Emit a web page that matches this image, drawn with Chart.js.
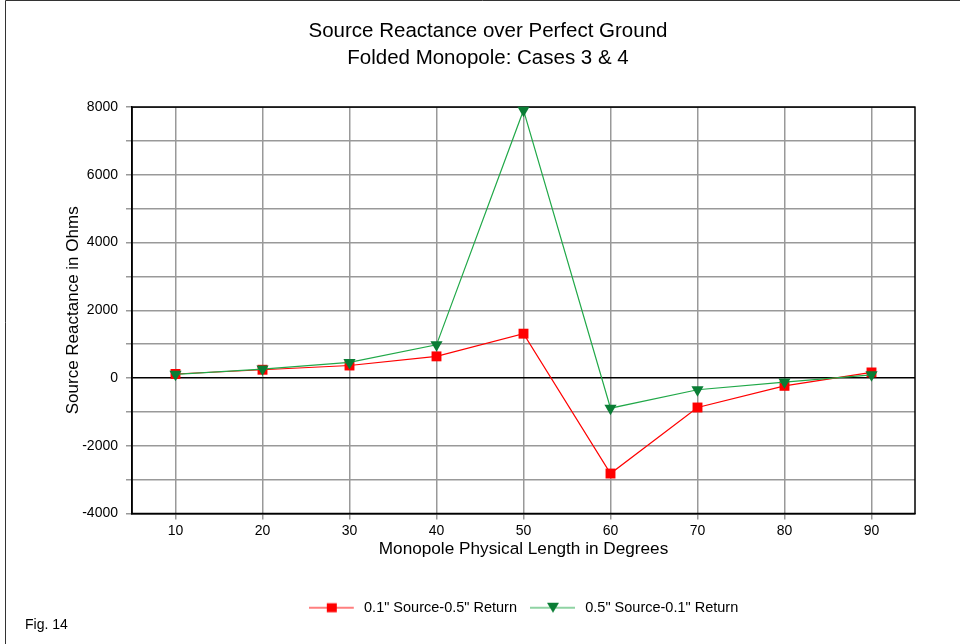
<!DOCTYPE html>
<html>
<head>
<meta charset="utf-8">
<script src="https://cdn.jsdelivr.net/npm/chart.js@4.4.1/dist/chart.umd.min.js"></script>
<style>
  html, body { margin: 0; padding: 0; background: #fff; }
</style>
</head>
<body>
<canvas id="myChart" width="960" height="644"></canvas>
<script>
// values (ohms)
const lengths = ['10', '20', '30', '40', '50', '60', '70', '80', '90'];
const reactanceCase3 = [120, 245, 370, 640, 1310, -2820, -870, -230, 165];
const reactanceCase4 = [110, 265, 460, 980, 7910, -890, -345, -120, 95];
const seriesNames = ['0.1" Source-0.5" Return', '0.5" Source-0.1" Return'];
const titleLines = ['Source Reactance over Perfect Ground', 'Folded Monopole: Cases 3 & 4'];

const FONT = "'Liberation Sans', Arial, sans-serif";
const RED = '#ff0000';
const GREEN_LINE = '#20a848';
const GREEN_MARK = '#0a7d35';

// legend icons: short line with the marker in the middle
function legendIcon(kind) {
    const c = document.createElement('canvas');
    c.width = 48; c.height = 12;
    const g = c.getContext('2d');
    g.strokeStyle = kind === 'red' ? RED : GREEN_LINE;
    g.lineWidth = 1.2;
    g.beginPath(); g.moveTo(0, 6); g.lineTo(45, 6); g.stroke();
    if (kind === 'red') {
        g.fillStyle = RED;
        g.fillRect(18, 1.5, 10, 9);
    } else {
        g.fillStyle = GREEN_MARK;
        g.beginPath(); g.moveTo(17, 1); g.lineTo(29, 1); g.lineTo(23, 11); g.closePath(); g.fill();
    }
    return c;
}
const icons = [legendIcon('red'), legendIcon('green')];

const plotFrame = {
    id: 'plotFrame',
    beforeDatasetsDraw(chart) {
        const {ctx, chartArea: a} = chart;
        ctx.save();
        ctx.strokeStyle = '#000';
        ctx.lineWidth = 1.5;
        ctx.strokeRect(a.left, a.top, a.right - a.left, a.bottom - a.top);
        ctx.restore();
    },
    afterDraw(chart) {
        const ctx = chart.ctx;
        ctx.save();
        ctx.strokeStyle = '#333';
        ctx.lineWidth = 1;
        ctx.beginPath();
        ctx.moveTo(5.5, 644); ctx.lineTo(5.5, 0.5); ctx.lineTo(960, 0.5);
        ctx.stroke();
        ctx.fillStyle = '#000';
        ctx.font = '14px ' + FONT;
        ctx.textBaseline = 'middle';
        ctx.fillText('Fig. 14', 25, 625);
        ctx.restore();
    }
};

var ctx = document.getElementById('myChart').getContext('2d');
var myChart = new Chart(ctx, {
    type: 'line',
    data: {
        labels: lengths,
        datasets: [{
            label: seriesNames[0],
            data: reactanceCase3,
            borderColor: RED,
            backgroundColor: RED,
            borderWidth: 1.2,
            pointStyle: 'rect',
            pointRadius: 7,
            pointBorderWidth: 0,
            tension: 0,
            clip: false,
            order: 1
        }, {
            label: seriesNames[1],
            data: reactanceCase4,
            borderColor: GREEN_LINE,
            backgroundColor: GREEN_MARK,
            borderWidth: 1.2,
            pointStyle: 'triangle',
            pointRotation: 180,
            pointRadius: 7,
            pointBorderWidth: 0,
            tension: 0,
            clip: false,
            order: 0
        }]
    },
    options: {
        responsive: false,
        animation: false,
        layout: {
            padding: {left: 61, right: 45, top: 0, bottom: 19}
        },
        plugins: {
            title: {
                display: true,
                text: titleLines,
                color: '#000',
                font: {family: FONT, size: 20.5, weight: 'normal', lineHeight: 1.32},
                padding: {top: 18, bottom: 35}
            },
            legend: {
                position: 'bottom',
                fullSize: false,
                labels: {
                    color: '#000',
                    font: {family: FONT, size: 14.5},
                    usePointStyle: true,
                    pointStyleWidth: 48,
                    padding: 13,
                    sort: (a, b) => a.datasetIndex - b.datasetIndex,
                    generateLabels(chart) {
                        const items = Chart.defaults.plugins.legend.labels.generateLabels(chart);
                        items.forEach(it => { it.pointStyle = icons[it.datasetIndex]; it.rotation = 0; });
                        return items;
                    }
                }
            },
            tooltip: {enabled: false}
        },
        scales: {
            x: {
                offset: true,
                afterFit(scale) { scale.height = 74; },
                grid: {color: '#999', lineWidth: 1.5, offset: false, tickLength: 6, tickColor: '#999'},
                border: {color: '#000', width: 1.5},
                ticks: {color: '#000', font: {family: FONT, size: 14}, padding: 3, maxRotation: 0},
                title: {
                    display: true,
                    text: 'Monopole Physical Length in Degrees',
                    color: '#000',
                    font: {family: FONT, size: 17.2},
                    padding: {top: 0, bottom: 28}
                }
            },
            y: {
                min: -4000,
                max: 8000,
                afterFit(scale) { scale.width = 71; },
                grid: {
                    color: c => c.tick && c.tick.value === 0 ? '#000' : '#999',
                    lineWidth: 1.5,
                    tickLength: 6,
                    tickColor: '#999'
                },
                border: {color: '#000', width: 1.5},
                ticks: {
                    stepSize: 1000,
                    color: '#000',
                    font: {family: FONT, size: 14},
                    padding: 8,
                    callback: v => (v % 2000 === 0 ? v : '')
                },
                title: {
                    display: true,
                    text: 'Source Reactance in Ohms',
                    color: '#000',
                    font: {family: FONT, size: 17},
                    padding: {top: 2, bottom: 0}
                }
            }
        }
    },
    plugins: [plotFrame]
});
</script>
</body>
</html>
